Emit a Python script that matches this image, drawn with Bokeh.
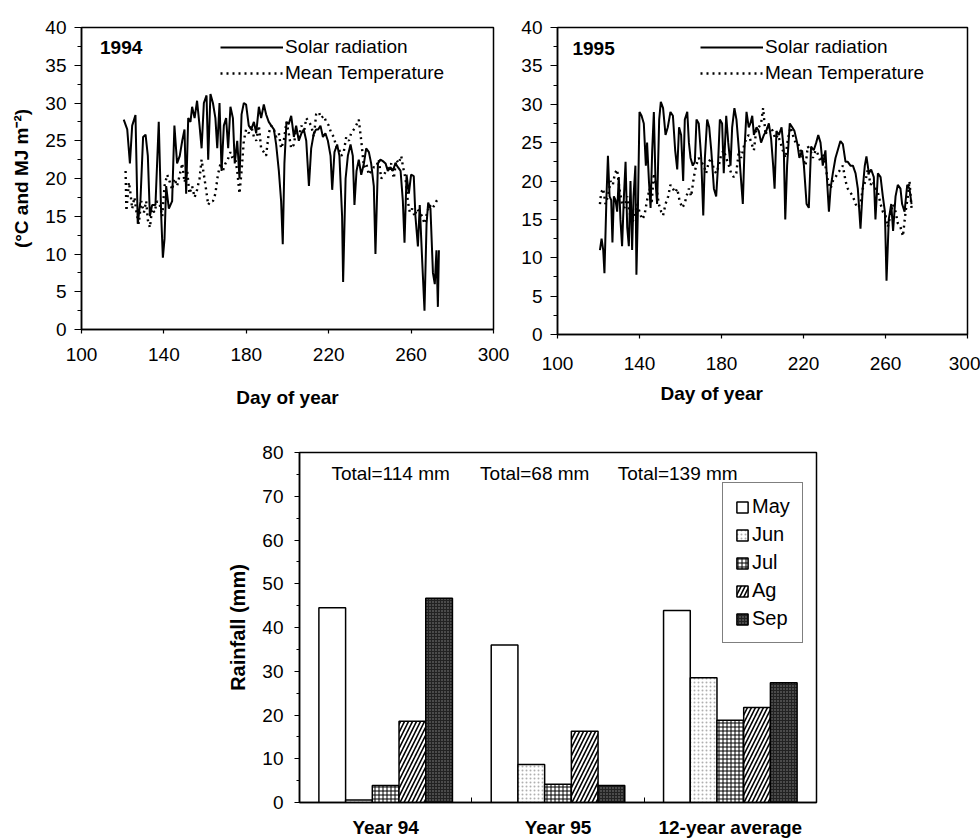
from bokeh.plotting import figure
from bokeh.models import (ColumnDataSource, Range1d, FixedTicker, Legend, LegendItem,
                          Label, Title, Spacer)
from bokeh.layouts import column, row
from bokeh.embed import file_html
from bokeh.resources import INLINE
from bokeh.transform import dodge

FONT = "Liberation Sans"

# ---------------- data: 1994 ----------------
solar94_day = [120.5,122.2,123.5,124.6,126.2,127.3,128.6,129.9,131.1,132.2,
               133.2,134.3,135.9,137.5,138.7,139.5,140.3,141.1,142.4,144.0,
               145.1,146.4,147.7,148.9,150.0,150.8,151.8,152.9,153.7,154.9,
               156.1,157.3,158.3,159.4,160.7,161.5,162.6,163.8,165.0,165.9,
               167.0,168.0,169.1,170.2,171.2,172.3,173.5,174.4,175.6,176.7,
               177.7,178.8,179.9,181.2,182.4,183.7,184.8,186.1,187.2,188.5,
               189.6,190.9,192.1,193.4,194.5,195.8,196.9,197.7,198.5,199.5,
               200.6,201.8,203.1,204.2,205.5,206.8,207.9,209.1,210.4,211.5,
               212.8,213.9,214.9,216.0,217.2,218.4,219.6,220.9,221.7,222.8,
               224.1,225.2,226.5,227.0,228.2,229.3,230.6,231.7,232.5,233.5,
               234.6,235.8,237.1,238.2,239.5,240.6,241.9,242.7,243.9,245.1,
               246.3,247.6,248.7,250.0,251.1,252.4,253.6,254.9,256.0,256.8,
               257.8,258.9,260.0,261.3,262.1,263.3,264.2,265.4,266.5,267.5,
               268.3,269.4,270.6,271.5,272.3,273.0,273.5]
solar94_val = [27.8,26.5,22,27,28.4,14,17,25.5,25.8,23,
               15,16.5,16.5,27.5,15,9.5,12,19,16,17,
               27,22,23,25,26.5,18,28,27.5,29.5,28,
               30.3,27,24,30,31,22.5,31.2,30,28,24,
               30,21,27,28,24,29.5,28,22,25,20,
               28.5,30,29.8,27,26.5,27.5,26,29.5,28,29.8,
               28.5,27.5,27,26.5,24.5,21,17,11.3,22,27.5,
               27.2,28.3,25.5,27,25,26,26.5,25,19,24,
               26,26.5,26.5,27,25.5,26,25,23,18.5,23.5,
               24.5,23,15,6.3,20,23,24.5,23,16.5,21,
               22.5,20.5,22,24,23.5,22,19,10,22,22.5,
               22.3,22,21,21.5,21,22,21.5,21,17,11.5,
               20.5,18,20.5,20.3,15,11,16.5,9,2.5,14,
               16.8,16,7.5,6,10.5,3,10.5]
temp94_day = [121.4,121.8,123.0,123.8,124.6,125.7,126.7,127.8,129.0,130.3,
              131.4,132.2,133.2,134.3,135.4,136.7,138.0,139.2,140.3,141.6,
              142.9,144.0,145.1,146.4,147.7,148.9,150.0,151.3,152.4,153.7,
              154.9,156.1,157.3,158.3,159.4,160.5,161.5,162.6,163.8,165.0,
              166.2,167.5,168.6,169.9,171.0,172.3,173.5,174.4,175.6,176.7,
              177.7,178.8,179.9,181.2,182.4,183.7,184.8,186.1,187.2,188.5,
              189.6,190.9,192.1,193.4,194.5,195.8,196.9,198.2,199.5,200.6,
              201.8,203.1,204.2,205.5,206.8,207.9,209.1,210.4,211.5,212.8,
              213.9,215.2,216.3,217.6,218.8,220.1,221.2,222.5,223.8,224.9,
              226.1,227.3,228.5,229.8,230.9,232.2,233.3,234.6,235.8,237.1,
              238.2,239.5,240.6,241.9,243.0,244.3,245.5,246.8,247.9,249.2,
              250.3,251.6,252.8,254.0,255.2,256.1,257.3,258.4,259.4,260.5,
              261.7,262.9,264.1,265.4,266.5,267.8,268.9,270.2,271.4,272.3,
              273.5]
temp94_val = [21,15.7,19.5,18,16,17.5,15.5,14,17,15.5,
              17,14.5,13.5,16,15.5,17,16.5,15,19,20.5,
              19.5,18.5,20,19,20.5,22,19.5,21,18,19,
              17.5,18.5,20,22.5,20.5,18.5,16.5,17,17,18,
              20.5,22,21,22,22.5,23.5,22.5,23,21,18,
              21,25,26.5,26,27,25.5,25,27,24,23.5,
              23,26,27,26.5,25.5,26,24,25,27.5,26,
              24,24.5,26.5,25.5,27,26,28,27.5,27,25.5,
              28.5,28.8,28,28.3,27.5,27,26,25.5,24,24,
              23,23.5,25.5,25,26,26.5,27,27.8,25,21.5,
              22,20.5,21,21.5,21.5,22.5,20,20.5,21,21.5,
              22,20,22.5,22,23,21.5,20,17,15.5,16,
              15,16,15.5,15,14,15.5,16.5,16,16.5,17,
              17.5]

# ---------------- data: 1995 ----------------
solar95_day = [120.7,121.5,122.3,122.9,123.9,124.6,125.4,126.2,126.8,127.5,
               128.3,129.1,129.9,130.7,131.5,132.4,133.2,134.0,134.8,135.6,
               136.4,137.1,138.0,138.5,139.2,140.0,141.0,142.1,143.1,143.7,
               144.6,145.4,146.2,147.0,147.8,148.6,149.6,150.4,151.5,152.7,
               153.8,155.1,156.3,157.4,158.4,159.3,160.3,161.3,162.1,163.3,
               164.1,164.9,166.0,167.0,167.8,168.9,170.1,171.1,171.9,173.0,
               174.0,175.0,176.3,177.4,178.2,179.2,180.3,181.1,182.3,183.3,
               184.4,185.2,186.3,187.3,188.5,189.3,190.4,191.2,192.2,193.3,
               194.1,195.0,195.8,197.1,198.2,199.3,200.7,201.8,203.1,204.2,
               205.2,205.9,206.8,208.0,209.3,210.4,211.1,212.0,213.3,214.5,
               215.6,216.9,218.0,219.3,220.2,221.5,222.6,223.7,225.0,226.2,
               227.2,228.3,229.4,230.7,231.5,232.4,233.2,234.3,235.6,236.7,
               238.0,239.2,240.5,241.6,242.9,244.1,245.4,246.5,247.8,248.9,
               249.9,250.7,251.9,253.0,254.3,255.1,256.3,257.6,258.7,259.7,
               260.5,261.6,262.8,263.7,264.9,266.0,267.3,268.1,269.3,270.6,
               271.7,272.7]
solar95_val = [11,12.5,11,8,18,23.3,18,17.5,12,18,
               17.5,16,20.5,15,11.5,18,22.5,14,11.5,20,
               11,18,22,7.8,16,29,28.5,27.5,22,25,
               20,16.5,24,29,20,17,28,30.3,29.5,26,
               27,29,28.5,24,21.5,27,26,20,28,29,
               25,23,22,22.5,28,27.5,23,15.5,23,28,
               27,24,19,18,21.5,28,27.5,21,28.5,25,
               22,27,29.5,28,24,21,17,24,29,27,
               27.5,28.5,26,27,26.5,25,26,26.5,27.5,25.5,
               22,19,26.5,26,27,24,15,22,27.5,27,
               26.5,25,23,24,22,17,16.5,24.5,24,25,
               26,25,22,24,20,16,19,21,23,24,
               25.2,24.8,22.5,22.5,22,22,21,19,13.8,19,
               22,23.2,21,21.5,20.5,15,21,20.5,18,16,
               7,15,17,13.5,18,19.5,19,17,16,19.5,
               19,17]
temp95_day = [120.7,121.3,122.3,123.4,124.6,125.9,127.0,128.0,129.1,130.2,
              131.5,132.7,134.0,135.1,136.4,137.6,138.9,140.0,141.3,142.4,
              143.7,144.9,145.9,147.0,148.1,149.4,150.6,151.5,152.7,154.0,
              155.1,156.3,157.4,158.4,159.5,160.8,162.0,162.9,164.1,165.2,
              166.5,167.6,168.9,170.1,171.4,172.5,173.8,175.0,176.3,177.4,
              178.7,179.9,181.1,182.3,183.6,184.7,186.0,187.2,188.5,189.6,
              190.9,192.0,193.3,194.5,195.8,196.9,198.2,199.3,200.3,201.5,
              202.6,203.9,205.0,206.3,207.5,208.8,209.9,211.2,212.4,213.7,
              214.8,216.1,217.2,218.5,219.7,221.0,222.1,223.4,224.6,225.9,
              227.0,228.3,229.4,230.7,231.9,233.2,234.3,235.6,236.7,238.0,
              239.2,240.5,241.6,242.9,244.1,245.4,246.5,247.8,248.9,250.2,
              251.4,252.7,253.8,255.1,256.3,257.6,258.7,260.0,261.1,262.4,
              263.6,264.9,266.0,267.3,268.5,269.8,270.9,271.7,272.7]
temp95_val = [17,18.5,19,17,18,20,19.5,21,21.5,19,
              17,16.5,18,16,14.5,15.5,17,16,15,15.5,
              17.5,19,17,21,19.5,17,16,15.5,17,18,
              19.5,19,18.5,19,17.5,16.5,17,18,19,18,
              20.5,22,23,22.5,22,21,22.5,23,21.5,21,
              22,23.5,24,23,22,21,20.5,21,24,23,
              24.5,25.5,26,25,24,26.5,27,27.5,29.5,26,
              27,27,26.5,25.5,26,25,24,23,25.5,27,
              26,25,25,24,23,22,24.5,24,23,24,
              23.5,22.5,23.5,22,20,19,20,20.5,21,21.5,
              22,20,19,18.5,18,17,16.5,17,19,20,
              21.5,19.5,20,19,18.5,17,16,15.5,14,15.5,
              17,16,14.5,14,12.8,16,18,20,16.5]

day_ticks = [100, 140, 180, 220, 260, 300]
temp_ticks = [0, 5, 10, 15, 20, 25, 30, 35, 40]

# ---------------- data: rainfall ----------------
groups = ["Year 94", "Year 95", "12-year average"]
months = ["May", "Jun", "Jul", "Ag", "Sep"]
rain_may = [44.5, 36.0, 43.9]
rain_jun = [0.6, 8.7, 28.5]
rain_jul = [3.9, 4.2, 18.8]
rain_ag = [18.6, 16.3, 21.7]
rain_sep = [46.7, 3.9, 27.4]
totals = [114, 68, 139]
rain_ticks = [0, 10, 20, 30, 40, 50, 60, 70, 80]


def base_axes(p, tick_size="19px"):
    p.xgrid.grid_line_color = None
    p.ygrid.grid_line_color = None
    p.outline_line_color = "black"
    p.outline_line_width = 1.5
    p.outline_line_alpha = 1.0
    p.background_fill_color = "white"
    p.border_fill_color = "white"
    for ax in (p.xaxis[0], p.yaxis[0]):
        ax.axis_line_color = "black"
        ax.axis_line_width = 1.5
        ax.major_tick_line_color = "black"
        ax.minor_tick_line_color = "black"
        ax.major_tick_line_width = 1.2
        ax.minor_tick_line_width = 1.0
        ax.major_label_text_font = FONT
        ax.major_label_text_font_size = tick_size
        ax.major_label_text_color = "black"
        ax.axis_label_text_font = FONT
        ax.axis_label_text_font_style = "bold"
        ax.axis_label_text_font_size = "19px"
        ax.axis_label_text_color = "black"


def ts_figure(sd, sv, td, tv, year, border_left, border_top, border_right,
              border_bottom, fw, fh, legend_xy, year_xy):
    p = figure(frame_width=fw, frame_height=fh,
               x_range=Range1d(100, 300), y_range=Range1d(0, 40),
               output_backend="svg", toolbar_location=None,
               min_border_left=border_left, min_border_top=border_top,
               min_border_right=border_right, min_border_bottom=border_bottom)
    base_axes(p)
    p.xaxis.ticker = FixedTicker(ticks=day_ticks, minor_ticks=[])
    p.yaxis.ticker = FixedTicker(ticks=temp_ticks,
                                 minor_ticks=[t + 2.5 for t in temp_ticks[:-1]])
    p.yaxis.major_tick_out = 7
    p.yaxis.major_tick_in = 0
    p.yaxis.minor_tick_out = 4
    p.yaxis.minor_tick_in = 0
    p.yaxis.major_label_standoff = 8
    p.xaxis.major_tick_out = 4
    p.xaxis.major_tick_in = 0
    p.xaxis.minor_tick_out = 0
    p.xaxis.minor_tick_in = 0

    r_s = p.line("x", "y", source=ColumnDataSource(dict(x=sd, y=sv)),
                 line_color="black", line_width=2.0)
    r_t = p.line("x", "y", source=ColumnDataSource(dict(x=td, y=tv)),
                 line_color="black", line_width=2.4, line_dash="2 4")
    leg = Legend(items=[LegendItem(label="Solar radiation", renderers=[r_s]),
                        LegendItem(label="Mean Temperature", renderers=[r_t])],
                 location=legend_xy, glyph_width=63, glyph_height=20,
                 label_height=20, spacing=4, padding=0, margin=0,
                 label_standoff=2, border_line_alpha=0,
                 background_fill_alpha=0, label_text_font=FONT,
                 label_text_font_size="19px", label_text_color="black")
    p.add_layout(leg)
    p.add_layout(Label(x=year_xy[0], y=year_xy[1], text=year, text_font=FONT,
                       text_font_style="bold", text_font_size="19px",
                       text_baseline="middle", text_color="black"))
    return p


p1 = ts_figure(solar94_day, solar94_val, temp94_day, temp94_val, "1994",
               81, 23, 22, 95, 412, 302, (139, 245), (109.0, 37.3))
p1.yaxis.axis_label = "(°C and MJ m⁻²)"
p1.yaxis.axis_label_standoff = 10
p1.xaxis.axis_label = "Day of year"
p1.xaxis.major_label_standoff = 14
p1.xaxis.axis_label_standoff = 23

p2 = ts_figure(solar95_day, solar95_val, temp95_day, temp95_val, "1995",
               42, 27, 13, 86, 410, 307, (143, 250), (107.3, 37.3))
p2.xaxis.major_label_standoff = 18
p2.add_layout(Title(text="Day of year", align="left", offset=103, standoff=16,
                    text_font=FONT, text_font_style="bold",
                    text_font_size="19px", text_color="black"), "below")

# ---------------- rainfall bar chart ----------------
p3 = figure(frame_width=517, frame_height=350,
            x_range=Range1d(-0.5, 2.5), y_range=Range1d(0, 80),
            output_backend="svg", toolbar_location=None,
            min_border_left=75, min_border_top=32, min_border_right=164,
            min_border_bottom=38)
base_axes(p3)
src = ColumnDataSource(dict(g=[0, 1, 2], May=rain_may, Jun=rain_jun,
                            Jul=rain_jul, Ag=rain_ag, Sep=rain_sep))
bar_w = 0.155
offsets = [-2 * bar_w, -bar_w, 0.0, bar_w, 2 * bar_w]
styles = {
    "May": dict(fill_color="white"),
    "Jun": dict(fill_color="white", hatch_pattern="dot", hatch_color="#b0b0b0",
                hatch_scale=4, hatch_weight=0.8),
    "Jul": dict(fill_color="white", hatch_pattern="cross", hatch_color="black",
                hatch_scale=4, hatch_weight=1.0),
    "Ag": dict(fill_color="white", hatch_pattern="right_diagonal_line",
               hatch_color="black", hatch_scale=8, hatch_weight=1.6),
    "Sep": dict(fill_color="#222222", hatch_pattern="dot", hatch_color="#8a8a8a",
                hatch_scale=3, hatch_weight=0.8),
}
for m, off in zip(months, offsets):
    p3.vbar(x=dodge("g", off), top=m, width=bar_w, source=src,
            line_color="black", line_width=1.5, legend_label=m, **styles[m])

p3.xaxis.ticker = FixedTicker(ticks=[0, 1, 2], minor_ticks=[0.5, 1.5])
p3.xaxis.major_label_overrides = {i: g for i, g in enumerate(groups)}
p3.xaxis.major_label_text_font_style = "bold"
p3.xaxis.major_tick_in = 0
p3.xaxis.major_tick_out = 0
p3.xaxis.minor_tick_in = 5
p3.xaxis.minor_tick_out = 0
p3.xaxis.major_label_standoff = 14
p3.yaxis.ticker = FixedTicker(ticks=rain_ticks,
                              minor_ticks=[t + 5 for t in rain_ticks[:-1]])
p3.yaxis.major_tick_out = 5
p3.yaxis.major_tick_in = 0
p3.yaxis.minor_tick_out = 3
p3.yaxis.minor_tick_in = 0
p3.yaxis.major_label_standoff = 11
p3.yaxis.axis_label = "Rainfall (mm)"
p3.yaxis.axis_label_standoff = 10
p3.yaxis.axis_label_text_font_size = "20px"

lg = p3.legend[0]
lg.location = (423, 159)
lg.glyph_width = 14
lg.glyph_height = 14
lg.label_height = 22
lg.spacing = 5
lg.padding = 12
lg.margin = 0
lg.label_standoff = 3
lg.border_line_color = "black"
lg.border_line_width = 1
lg.background_fill_color = "white"
lg.label_text_font = FONT
lg.label_text_font_size = "20px"
lg.label_text_color = "black"

total_x = [-0.315, 0.548, 1.347]
for tx, t in zip(total_x, totals):
    p3.add_layout(Label(x=tx, y=75.2, text=f"Total={t} mm", text_font=FONT,
                        text_font_size="19px", text_baseline="middle",
                        text_color="black"))

layout = column(row(p1, p2), row(Spacer(width=224, height=10), p3))
open("out.html", "w").write(file_html(layout, INLINE))
